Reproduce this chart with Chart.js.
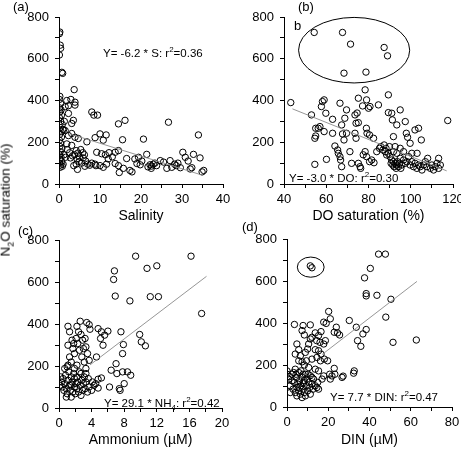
<!DOCTYPE html>
<html>
<head>
<meta charset="utf-8">
<script src="https://cdn.jsdelivr.net/npm/chart.js@4.4.1/dist/chart.umd.min.js"></script>
<style>
body{margin:0;background:#fff;font-family:"Liberation Sans",Arial,sans-serif;}
#wrap{position:relative;width:461px;height:449px;overflow:hidden;background:#fff;}
canvas{position:absolute;}
.t{position:absolute;white-space:nowrap;color:#000;line-height:1;}
.eq{font-size:11.5px;}
.lab{font-size:13px;}
#ytitle{font-size:13.5px;transform:translate(-50%,-50%) rotate(-90deg);left:7px;top:200px;}
</style>
</head>
<body>
<div id="wrap">
<canvas id="ca" width="230" height="225" style="left:0;top:0"></canvas>
<canvas id="cb" width="231" height="225" style="left:230px;top:0"></canvas>
<canvas id="cc" width="230" height="224" style="left:0;top:225px"></canvas>
<canvas id="cd" width="231" height="224" style="left:230px;top:225px"></canvas>

<div class="t lab" style="left:13px;top:0">(a)</div>
<div class="t lab" style="left:298px;top:0">(b)</div>
<div class="t lab" style="left:18px;top:224px">(c)</div>
<div class="t lab" style="left:242px;top:220px">(d)</div>
<div class="t lab" style="left:294px;top:19px">b</div>

<div class="t eq" style="left:103px;top:46px">Y= -6.2 * S: r<sup style="font-size:8px">2</sup>=0.36</div>
<div class="t eq" style="left:289px;top:171px">Y= -3.0 * DO: r<sup style="font-size:8px">2</sup>=0.30</div>
<div class="t eq" style="left:104px;top:396px">Y= 29.1 * NH<sub style="font-size:8px">4</sub>: r<sup style="font-size:8px">2</sup>=0.42</div>
<div class="t eq" style="left:330px;top:390px">Y= 7.7 * DIN: r<sup style="font-size:8px">2</sup>=0.47</div>

<div class="t" id="ytitle">N<sub style="font-size:9px">2</sub>O saturation (%)</div>
</div>

<script>
// (a) salinity vs N2O saturation
var salinity = [0.2,0.1,0.3,0.4,0.1,0.7,0.9,0.2,0.1,0.4,0.1,0.5,0.2,0.6,0.1,0.4,0.8,0.3,0.9,0.5,0.2,0.6,0.1,0.4,0.2,0.7,0.3,0.1,0.5,0.2,0.6,0.1,0.4,0.8,0.3,1.0,1.2,1.1,1.3,1.5,
  1.9,2.9,3.7,3.9,3.9,2.3,2.3,3.5,3.1,1.5,3.1,2.3,3.9,4.7,6.8,1.9,3.1,2.0,2.6,3.3,1.6,2.8,4.2,4.6,3.8,5.0,4.4,5.3,5.8,4.9,4.2,3.6,4.5,5.5,5.9,6.2,6.5,7.0,6.3,7.5,8.0,8.8,9.0,
  8.0,8.5,9.4,8.8,10.0,11.5,10.8,9.2,10.4,11.3,12.2,13.7,14.5,14.5,16.1,15.5,20.6,26.7,34.0,10.0,10.8,12.0,11.6,13.0,
  14.7,14.5,13.7,15.7,16.5,17.3,17.8,19.0,19.4,19.8,20.2,21.4,21.7,22.2,22.6,23.0,23.4,23.8,24.7,27.1,27.5,28.2,28.6,29.0,29.6,30.2,30.8,31.5,32.4,32.8,34.4,34.9,35.3,32.0,26.3,18.5,22.5,25.5];
var n2oA = [728,720,665,650,618,535,530,420,405,385,365,355,345,330,318,300,285,270,262,250,238,225,210,195,180,170,155,140,128,118,108,100,92,85,80,95,140,260,300,370,
  400,405,452,392,378,375,338,305,290,256,242,232,224,218,202,192,185,165,150,135,128,125,160,148,140,130,120,165,150,108,95,88,70,100,125,140,110,95,85,90,100,95,88,
  345,330,330,222,240,235,210,152,145,140,150,152,160,288,305,212,215,296,235,88,80,120,95,130,
  55,88,98,75,122,65,58,98,128,92,110,142,82,92,86,95,100,88,112,112,80,95,88,100,78,152,128,110,78,142,125,58,65,72,75,120,75,105];
var fitAX = [3, 35];
var fitAY = [238, 42];

// (b) DO saturation vs N2O saturation
var doSat = [54.3,67.7,71.5,87.4,89.0,68.4,78.8,
  43.2,53.0,58.2,59.0,57.7,59.8,63.0,66.5,69.6,67.3,68.8,75.2,78.4,79.1,77.2,80.0,80.7,73.6,74.6,74.1,75.2,84.7,89.4,89.4,91.0,91.3,95.0,93.4,97.4,97.9,98.5,99.7,100.5,91.8,102.0,103.7,105.0,117.5,
  55.0,56.2,57.0,55.0,54.6,59.0,63.0,67.7,69.6,68.4,73.6,74.1,79.0,79.3,80.5,82.4,
  54.6,60.1,64.1,65.4,65.7,66.5,67.3,66.8,71.2,72.0,75.2,76.0,76.3,77.5,78.4,79.1,80.5,81.5,82.6,
  83.9,85.2,85.8,86.8,87.4,87.9,88.3,88.6,89.4,89.9,90.2,91.0,90.7,91.5,91.8,92.1,92.6,93.1,93.4,93.7,94.2,94.7,95.0,95.3,95.8,96.6,97.4,98.2,99.0,99.7,100.5,101.3,102.0,102.9,103.7,104.5,105.3,106.1,106.9,107.7,108.0,109.3,110.0,110.8,111.6,112.4,113.2,113.2,114.0,91.8,93.4,96.6,95.0,92.6,103.0];
var n2oB = [726,726,670,654,614,531,536,
  390,331,395,403,371,339,310,387,355,283,315,411,451,403,374,363,371,331,340,291,294,379,427,342,339,307,355,283,299,243,224,195,147,227,259,267,211,304,
  267,267,275,230,219,251,243,240,243,211,243,219,267,243,235,219,
  94,118,182,163,147,131,83,115,155,99,99,83,75,140,155,131,107,115,102,
  155,171,179,163,187,155,171,139,147,179,131,115,99,91,107,83,99,75,91,107,83,99,123,75,91,115,99,107,131,91,107,83,99,75,91,83,67,91,107,83,123,75,91,67,83,99,75,123,91,155,147,155,171,179,147];
var fitBX = [44, 117];
var fitBY = [360, 63];
var ellipseB = [73.2, 641, 26.3, 157];   // centre x, centre y, half width, half height

// (c) ammonium vs N2O saturation
var ammonium = [9.4,16.2,6.7,6.8,10.8,12.0,6.9,8.7,11.2,12.2,17.5,
  9.9,10.1,10.6,7.6,7.9,7.8,4.6,5.1,5.2,5.4,6.0,4.8,5.6,7.0,6.4,7.1,7.8,8.4,8.8,8.0,7.4,7.5,6.2,5.2,4.8,4.8,4.1,
  2.6,3.4,3.7,3.8,1.1,1.3,1.6,1.8,2.2,2.4,2.7,2.9,3.2,3.3,3.0,3.5,2.8,3.7,1.5,1.1,2.2,1.9,1.7,2.5,3.1,3.3,1.3,2.3,1.1,2.1,
  0.3,0.4,0.5,0.6,0.7,0.8,0.9,1.0,1.1,1.2,1.3,1.4,1.5,1.5,1.6,1.7,1.8,1.9,1.9,2.0,2.1,2.2,2.2,2.3,2.4,2.5,2.6,2.7,2.8,2.9,3.0,3.1,3.2,3.3,3.5,3.6,3.7,4.0,4.3,4.5,0.7,1.0,0.2,0.1,0.9,1.5,1.9,2.7,3.3];
var n2oC = [723,723,612,653,665,677,533,510,530,530,450,
  350,315,296,363,302,259,243,331,363,299,366,378,347,211,180,164,172,172,156,116,92,84,100,143,95,137,124,
  413,407,397,375,389,363,323,307,389,363,350,323,331,291,283,259,243,227,219,204,204,259,283,275,219,188,243,307,299,331,
  124,100,140,84,116,156,92,68,132,172,108,84,148,52,124,76,164,100,140,68,116,92,148,124,76,172,108,60,132,84,116,148,92,124,76,140,100,84,108,116,188,196,148,108,52,111,188,164,164];
var fitCX = [3.8, 18.1];
var fitCY = [205, 627];

// (d) DIN vs N2O saturation
var din = [11.3,12.1,44.4,47.7,40.4,37.6,38.4,38.4,43.6,50.4,47.9,30.2,33.6,34.2,35.8,36.8,38.4,51.4,62.7,
  20.2,21.0,17.8,19.0,23.9,24.5,25.5,22.9,3.6,7.8,11.3,7.3,8.4,13.7,12.1,15.3,16.5,14.4,16.0,17.8,18.6,10.5,11.3,4.8,5.7,4.0,6.5,8.9,10.0,13.7,15.3,16.5,14.5,18.1,19.7,16.2,12.1,9.4,7.3,5.7,8.4,10.5,13.7,15.3,22.9,20.7,21.8,21.0,23.2,26.7,27.2,32.6,32.3,17.0,17.8,
  0.0,0.0,0.8,1.2,2.4,1.6,2.9,3.6,4.0,4.5,4.8,5.3,5.7,6.1,6.5,6.8,7.3,7.8,8.1,8.4,8.9,9.4,9.7,10.0,10.5,11.0,11.3,12.1,12.6,12.9,13.7,14.5,14.9,15.3,3.2,4.0,5.7,6.8,7.8,4.8,7.3,8.9,11.3,1.6,2.4,4.4,6.1,8.4,10.2,12.1];
var n2oD = [672,663,728,728,660,615,540,529,532,513,428,412,380,316,289,348,369,308,319,
  455,420,404,398,380,353,343,356,393,388,391,364,343,353,332,340,359,316,308,300,316,300,324,300,273,252,244,260,276,273,268,252,236,228,220,220,228,220,215,220,200,188,180,172,184,156,148,133,156,141,147,172,161,133,148,
  172,156,133,145,156,101,85,117,69,141,93,109,77,125,61,101,141,85,117,69,156,101,133,77,117,93,149,109,85,133,101,93,117,85,164,180,164,172,156,53,45,53,61,69,125,156,93,125,156,141];
var fitDX = [17, 63];
var fitDY = [250, 598];
var ellipseD = [11.5, 666, 6.5, 48];

var yTicks = [0, 800, 100, 200];   // min, max, tick step, label step

Chart.defaults.font.family = '"Liberation Sans", Arial, sans-serif';
Chart.defaults.color = '#000';

var ellipsePlugin = {
  id: 'ellipse',
  afterDatasetsDraw: function(chart, args, opts){
    if(!opts || !opts.e) return;
    var e = opts.e, xs = chart.scales.x, ys = chart.scales.y, ctx = chart.ctx;
    var px = xs.getPixelForValue(e[0]), py = ys.getPixelForValue(e[1]);
    var rx = Math.abs(xs.getPixelForValue(e[0] + e[2]) - px);
    var ry = Math.abs(ys.getPixelForValue(e[1] + e[3]) - py);
    ctx.save();
    ctx.beginPath();
    ctx.ellipse(px, py, rx, ry, 0, 0, 2*Math.PI);
    ctx.strokeStyle = '#000';
    ctx.lineWidth = 1;
    ctx.stroke();
    ctx.restore();
  }
};

function panel(id, c){
  var pts = c.xs.map(function(x,i){ return {x:x, y:c.ys[i]}; });
  var fit = c.fitX.map(function(x,i){ return {x:x, y:c.fitY[i]}; });
  return new Chart(document.getElementById(id), {
    type: 'scatter',
    data: {datasets: [
      {data: pts, pointRadius: 3.2, pointHoverRadius: 3.2, borderColor: '#000', backgroundColor: 'rgba(0,0,0,0)', borderWidth: 1, order: 2},
      {data: fit, showLine: true, pointRadius: 0, borderColor: '#8a8a8a', borderWidth: 0.9, order: 1}
    ]},
    options: {
      responsive: false,
      animation: false,
      events: [],
      layout: {padding: {left: 0, top: c.top, right: c.right, bottom: 0}},
      plugins: {legend: {display: false}, tooltip: {enabled: false}, ellipse: {e: c.ellipse || null}},
      scales: {
        x: {
          type: 'linear', min: c.xTicks[0], max: c.xTicks[1],
          ticks: {stepSize: c.xTicks[2], autoSkip: false, maxRotation: 0, padding: 4, font: {size: 13},
            callback: function(v){ return v % c.xTicks[3] === 0 ? v : ''; }},
          grid: {drawOnChartArea: false, color: '#000', tickLength: 4},
          border: {color: '#000', width: 1},
          title: {display: true, text: c.xtitle, font: {size: 14}, padding: {top: 2, bottom: 0}},
          afterFit: function(s){ s.height = c.xh; s.paddingLeft = 0; s.paddingRight = 0; }
        },
        y: {
          type: 'linear', min: yTicks[0], max: yTicks[1],
          ticks: {stepSize: yTicks[2], autoSkip: false, padding: 6, font: {size: 13},
            callback: function(v){ return v % yTicks[3] === 0 ? v : ''; }},
          grid: {drawOnChartArea: false, color: '#000', tickLength: 4},
          border: {color: '#000', width: 1},
          afterFit: function(s){ s.width = c.yw; s.paddingTop = 0; s.paddingBottom = 0; }
        }
      }
    },
    plugins: [ellipsePlugin]
  });
}

panel('ca', {xs: salinity, ys: n2oA, fitX: fitAX, fitY: fitAY, xTicks: [0, 40, 5, 10], xtitle: 'Salinity',
  top: 17, right: 7, yw: 59, xh: 41});
panel('cb', {xs: doSat, ys: n2oB, fitX: fitBX, fitY: fitBY, xTicks: [40, 120, 10, 20], xtitle: 'DO saturation (%)',
  top: 17, right: 8, yw: 54, xh: 41, ellipse: ellipseB});
panel('cc', {xs: ammonium, ys: n2oC, fitX: fitCX, fitY: fitCY, xTicks: [0, 20, 2, 4], xtitle: 'Ammonium (\u00b5M)',
  top: 15, right: 8, yw: 59, xh: 41});
panel('cd', {xs: din, ys: n2oD, fitX: fitDX, fitY: fitDY, xTicks: [0, 80, 10, 20], xtitle: 'DIN (\u00b5M)',
  top: 14, right: 9, yw: 57, xh: 42, ellipse: ellipseD});
</script>
</body>
</html>
